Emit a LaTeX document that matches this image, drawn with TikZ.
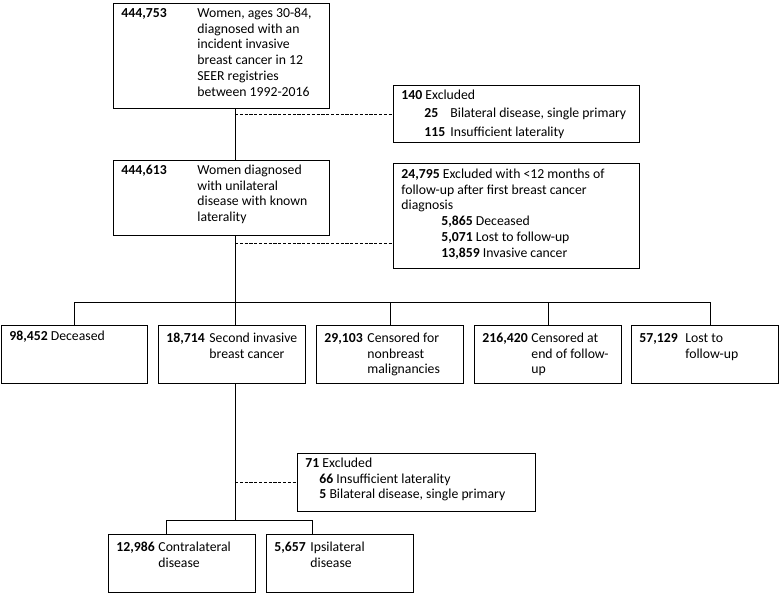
\documentclass[tikz,border=0pt]{standalone}
\usepackage{fontspec}
\setmainfont{Carlito}
\newlength{\px}
\setlength{\px}{0.75pt}
% framed text: [top pad], width, height (px), contents
\newcommand{\cell}[4][3]{\parbox[c][#3\px][t]{#2\px}{\vspace*{#1\px}\hspace*{8\px}#4}}
% bold count with hanging text
\newcommand{\entry}[3]{\begin{tabular}[t]{@{}l@{}l@{}}\makebox[#1\px][l]{\textbf{#2}} & #3\end{tabular}}

\begin{document}
\begin{tikzpicture}[x=0.75pt, y=-0.75pt, line width=0.65pt,
        font=\fontsize{10.3}{11.8}\selectfont,
        box/.style={draw, anchor=north west, inner sep=0pt},
        excl/.style={line width=0.5pt, dash pattern=on 2.4pt off 1.2pt}]
        \useasboundingbox (0,0) rectangle (779,593);

        \node[box] (start) at (113,3) {\cell{216}{105}{\entry{76}{444,753}{Women, ages 30-84,\\ & diagnosed with an\\ & incident invasive\\ & breast cancer in 12\\ & SEER registries\\ & between 1992-2016}}};
        \node[box] (excla) at (393,85) {\cell{246}{57}{\begin{tabular}[t]{@{}l@{}}\textbf{140} Excluded\\[2pt]
          \hspace*{23\px}\makebox[26\px][l]{\textbf{25}}Bilateral disease, single primary\\[2pt]
          \hspace*{23\px}\makebox[26\px][l]{\textbf{115}}Insufficient laterality\end{tabular}}};
        \node[box] (unilat) at (113,160) {\cell{216}{75}{\entry{76}{444,613}{Women diagnosed\\ & with unilateral\\ & disease with known\\ & laterality}}};
        \node[box] (exclb) at (393,163) {\cell[4]{246}{105}{\begin{tabular}[t]{@{}l@{}}\textbf{24,795} Excluded with <12 months of\\
          follow-up after first breast cancer\\ diagnosis\\
          \hspace*{40\px}\textbf{5,865} Deceased\\
          \hspace*{40\px}\textbf{5,071} Lost to follow-up\\
          \hspace*{40\px}\textbf{13,859} Invasive cancer\end{tabular}}};

        \node[box] (dead) at (1,325) {\cell[6]{146}{58}{\textbf{98,452} Deceased}};
        \node[box] (second) at (158,325) {\cell[6]{147}{58}{\entry{43}{18,714}{Second invasive\\ & breast cancer}}};
        \node[box] (censnb) at (316,325) {\cell[6]{147}{58}{\entry{43}{29,103}{Censored for\\ & nonbreast\\ & malignancies}}};
        \node[box] (censend) at (474,325) {\cell[6]{147}{58}{\entry{49}{216,420}{Censored at\\ & end of follow-\\ & up}}};
        \node[box] (lost) at (631,325) {\cell[6]{147}{58}{\entry{46}{57,129}{Lost to\\ & follow-up}}};

        \node[box] (excld) at (297,453) {\cell{238}{58}{\begin{tabular}[t]{@{}l@{}}\textbf{71} Excluded\\
          \hspace*{14\px}\textbf{66} Insufficient laterality\\
          \hspace*{14\px}\textbf{5} Bilateral disease, single primary\end{tabular}}};
        \node[box] (contra) at (108,534) {\cell[6]{147}{58}{\entry{42}{12,986}{Contralateral\\ & disease}}};
        \node[box] (ipsi) at (266,534) {\cell[6]{147}{58}{\entry{36}{5,657}{Ipsilateral\\ & disease}}};

        \coordinate (spine) at (235,302);
        \coordinate (cut) at (235,243);
        \coordinate (br) at (710,302);
        \coordinate (fork) at (235,520);
        \coordinate (fl) at (166,520);
        \coordinate (fr) at (312,520);

        \draw (start.south -| spine) -- (unilat.north -| spine)
         (unilat.south -| spine) -- (spine)
         (dead.north) |- (br) -- (lost.north -| br)
         (spine) -- (second.north -| spine)
         (censnb.north) -- (censnb.north |- spine)
         (censend.north) -- (censend.north |- spine)
         (second.south -| spine) -- (fork)
         (contra.north -| fl) |- (fr) -- (ipsi.north -| fr);
        \draw[excl] (excla.west -| spine) -- (excla.west)
         (cut) -- (cut -| exclb.west)
         (excld.west -| fork) -- (excld.west);
\end{tikzpicture}
\end{document}
